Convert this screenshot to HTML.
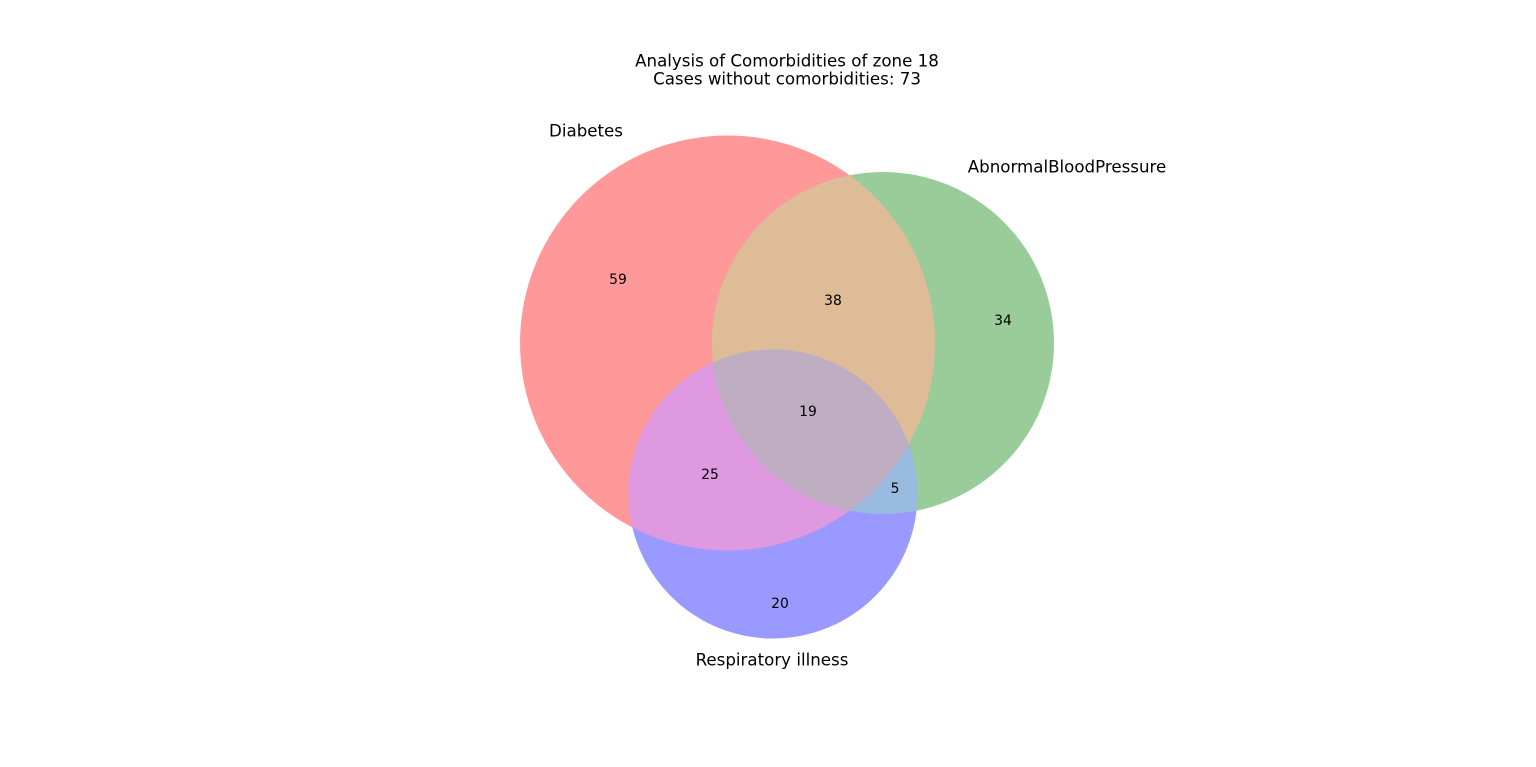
<!DOCTYPE html>
<html><head><meta charset="utf-8">
<style>
html,body{margin:0;padding:0;background:#fff;}
svg{display:block;font-family:"DejaVu Sans","Liberation Sans",sans-serif;}
</style></head>
<body>
<svg id="chart" width="1536" height="767" viewBox="0 0 1536 767">
  <defs>
    <clipPath id="clipD"><circle cx="727.5" cy="343" r="207.5"/></clipPath>
    <clipPath id="clipA"><circle cx="883" cy="343" r="171"/></clipPath>
    <clipPath id="clipR"><circle cx="773" cy="494" r="144.5"/></clipPath>
  </defs>
  <g id="shapes"></g>
  <g id="labels"></g>
</svg>
<script>
const setNames = ["Diabetes", "AbnormalBloodPressure", "Respiratory illness"];
const regionKeys = ["100", "010", "001", "110", "101", "011", "111"];
const regionValues = [59, 34, 20, 38, 25, 5, 19];
const titleLines = ["Analysis of Comorbidities of zone 18", "Cases without comorbidities: 73"];

const NS = "http://www.w3.org/2000/svg";
const circles = [
  {cx: 727.5, cy: 343, r: 207.5, fill: "#ff9999", clip: "clipD"},
  {cx: 883, cy: 343, r: 171, fill: "#99cc99", clip: "clipA"},
  {cx: 773, cy: 494, r: 144.5, fill: "#9999ff", clip: "clipR"}
];
const shapes = document.getElementById("shapes");
function circ(c, fill, parent) {
  const e = document.createElementNS(NS, "circle");
  e.setAttribute("cx", c.cx); e.setAttribute("cy", c.cy); e.setAttribute("r", c.r);
  e.setAttribute("fill", fill);
  parent.appendChild(e);
  return e;
}
circles.forEach((c, i) => {
  const e = circ(c, c.fill, shapes);
  
  
});
function inter(a, b, fill, name, third) {
  const g = document.createElementNS(NS, "g");
  g.setAttribute("clip-path", "url(#" + circles[a].clip + ")");
  let parent = g;
  if (third !== undefined) {
    const g2 = document.createElementNS(NS, "g");
    g2.setAttribute("clip-path", "url(#" + circles[third].clip + ")");
    g.appendChild(g2); parent = g2;
  }
  circ(circles[b], fill, parent);
  
  
  shapes.appendChild(g);
}
inter(0, 1, "#dfbc98", "region-diabetes-bloodpressure");
inter(0, 2, "#df99e0", "region-diabetes-respiratory");
inter(1, 2, "#99bbe0", "region-bloodpressure-respiratory");
inter(0, 1, "#bfadc2", "region-all-three", 2);

const labels = document.getElementById("labels");
function txt(x, y, s, size, name) {
  const t = document.createElementNS(NS, "text");
  t.setAttribute("x", x); t.setAttribute("y", y);
  t.setAttribute("text-anchor", "middle");
  t.setAttribute("dominant-baseline", "central");
  t.setAttribute("font-size", size);
  t.setAttribute("fill", "#000");
  t.textContent = s;
  
  
  labels.appendChild(t);
}
const regionPos = {"100": [618, 280], "010": [1003, 321], "001": [780, 604], "110": [833, 301], "101": [710, 475], "011": [895, 489], "111": [808, 412]};
regionKeys.forEach((k, i) => {
  const p = regionPos[k];
  txt(p[0], p[1], String(regionValues[i]), 13.9, "count-" + k);
});
const setPos = [[586, 131], [1067, 167], [772, 660]];
setNames.forEach((n, i) => txt(setPos[i][0], setPos[i][1], n, 16.67, "set-label-" + i));
txt(787, 61, titleLines[0], 16.67, "chart-title");
txt(787, 79, titleLines[1], 16.67, "chart-subtitle");
</script>
</body></html>
